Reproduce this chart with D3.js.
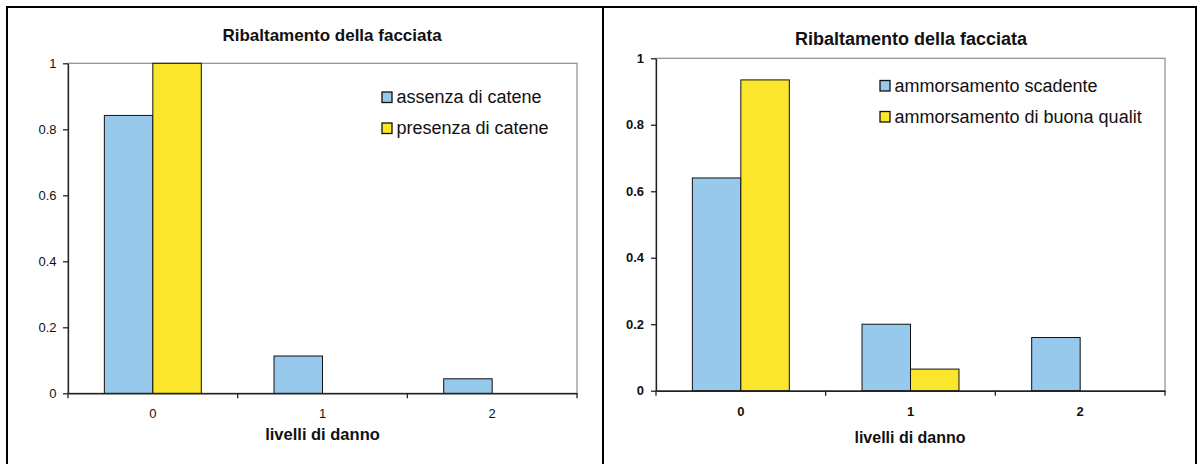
<!DOCTYPE html>
<html>
<head>
<meta charset="utf-8">
<script src="https://cdn.jsdelivr.net/npm/d3@7/dist/d3.min.js"></script>
<style>
  html, body { margin: 0; padding: 0; background: #fff; }
  svg { display: block; font-family: "Liberation Sans", Arial, sans-serif; }
</style>
</head>
<body>
<svg id="chart" width="1200" height="464"></svg>
<script>
// Shared labels
const chartTitle = "Ribaltamento della facciata";
const xAxisTitle = "livelli di danno";
const categories = ["0", "1", "2"];
const yTicks = [0, 0.2, 0.4, 0.6, 0.8, 1];

// Left chart: tie rods
const seriesNamesChains = ["assenza di catene", "presenza di catene"];
const valuesNoChains = [0.842, 0.113, 0.044];
const valuesWithChains = [1.0, 0, 0];

// Right chart: wall interlocking quality
const seriesNamesBond = ["ammorsamento scadente", "ammorsamento di buona qualit"];
const valuesPoorBond = [0.64, 0.2, 0.16];
const valuesGoodBond = [0.935, 0.065, 0];

const seriesColors = ["#97C9EC", "#FCE62B"];

const svg = d3.select("#chart");

function drawPanel(cfg) {
  const g = svg.append("g");

  // outer frame
  g.append("rect")
    .attr("x", cfg.frame[0]).attr("y", cfg.frame[1])
    .attr("width", cfg.frame[2]).attr("height", cfg.frame[3])
    .attr("fill", "#fff").attr("stroke", "#000").attr("stroke-width", 2);

  const p = cfg.plot;
  const gap = 1.5 / 3.5;
  const x = d3.scaleBand().domain(cfg.categories).range([p.x0, p.x1])
    .paddingInner(gap).paddingOuter(gap / 2);
  const xs = d3.scaleBand().domain(d3.range(cfg.series.length)).range([0, x.bandwidth()]);
  const y = d3.scaleLinear().domain([0, 1]).range([p.y1, p.y0]);

  // plot area border
  g.append("rect")
    .attr("x", p.x0).attr("y", p.y0)
    .attr("width", p.x1 - p.x0).attr("height", p.y1 - p.y0)
    .attr("fill", "#fff").attr("stroke", "#8c8c8c").attr("stroke-width", 1.2);

  // bars
  cfg.series.forEach((vals, si) => {
    g.append("g").selectAll("rect")
      .data(vals.map((v, i) => ({ cat: cfg.categories[i], v })))
      .join("rect")
      .filter(d => d.v > 0)
      .attr("x", d => x(d.cat) + xs(si))
      .attr("y", d => y(d.v))
      .attr("width", xs.bandwidth())
      .attr("height", d => y(0) - y(d.v))
      .attr("fill", seriesColors[si])
      .attr("stroke", "#111").attr("stroke-width", 1);
  });

  const fw = cfg.boldTicks ? "bold" : "normal";

  // y axis
  const ya = g.append("g").attr("transform", `translate(${p.x0},0)`)
    .call(d3.axisLeft(y).tickValues(cfg.yTicks).tickSizeInner(5).tickSizeOuter(0)
      .tickPadding(cfg.yPad).tickFormat(d => String(d)));
  ya.selectAll("path, line").attr("stroke", "#222").attr("stroke-width", 1.3);
  ya.selectAll("text").attr("font-size", 13).attr("font-weight", fw)
    .attr("fill", "#111").attr("font-family", "Liberation Sans, Arial, sans-serif");

  // x axis with category labels
  const xa = g.append("g").attr("transform", `translate(0,${p.y1})`)
    .call(d3.axisBottom(x).tickSize(0).tickPadding(cfg.xPad));
  xa.select(".domain").attr("stroke", "#222").attr("stroke-width", 1.5);
  xa.selectAll("text").attr("font-size", 13).attr("font-weight", fw)
    .attr("fill", "#111").attr("font-family", "Liberation Sans, Arial, sans-serif");

  // tick marks between categories
  const bounds = cfg.categories.map(c => x(c) - x.step() * gap / 2 * 0 - (x.step() - x.bandwidth()) / 2)
    .concat([p.x1]);
  xa.selectAll("line.sep").data(bounds).join("line").attr("class", "sep")
    .attr("x1", d => d).attr("x2", d => d).attr("y1", 0).attr("y2", 5)
    .attr("stroke", "#222").attr("stroke-width", 1.3);

  // titles
  g.append("text").attr("x", cfg.title[0]).attr("y", cfg.title[1])
    .attr("text-anchor", "middle").attr("font-weight", "bold")
    .attr("font-size", cfg.title[2]).attr("fill", "#111").text(chartTitle);
  g.append("text").attr("x", cfg.xTitle[0]).attr("y", cfg.xTitle[1])
    .attr("text-anchor", "middle").attr("font-weight", "bold")
    .attr("font-size", cfg.xTitle[2]).attr("fill", "#111").text(xAxisTitle);

  // legend
  const lg = g.append("g").attr("transform", `translate(${cfg.legend[0]},${cfg.legend[1]})`);
  cfg.names.forEach((name, i) => {
    const row = lg.append("g").attr("transform", `translate(0,${i * 31})`);
    row.append("rect").attr("x", 0.5).attr("y", 0.5).attr("width", 10).attr("height", 10.5)
      .attr("fill", seriesColors[i]).attr("stroke", "#111").attr("stroke-width", 1.3);
    row.append("text").attr("x", 15).attr("y", 11.5)
      .attr("font-size", 18).attr("fill", "#111").text(name);
  });
}

drawPanel({
  frame: [7, 7, 596, 470],
  plot: { x0: 68, x1: 577, y0: 63.3, y1: 393.3 },
  categories, yTicks,
  series: [valuesNoChains, valuesWithChains],
  names: seriesNamesChains,
  boldTicks: false,
  yPad: 6.5, xPad: 15.5,
  title: [332, 41, 17],
  xTitle: [322.5, 440, 16.5],
  legend: [381.5, 91.5]
});

drawPanel({
  frame: [603, 7, 593, 470],
  plot: { x0: 656, x1: 1165, y0: 58.3, y1: 390.7 },
  categories, yTicks,
  series: [valuesPoorBond, valuesGoodBond],
  names: seriesNamesBond,
  boldTicks: true,
  yPad: 7, xPad: 16.5,
  title: [911, 45, 18],
  xTitle: [910, 442.5, 16],
  legend: [879.5, 80]
});
</script>
</body>
</html>
